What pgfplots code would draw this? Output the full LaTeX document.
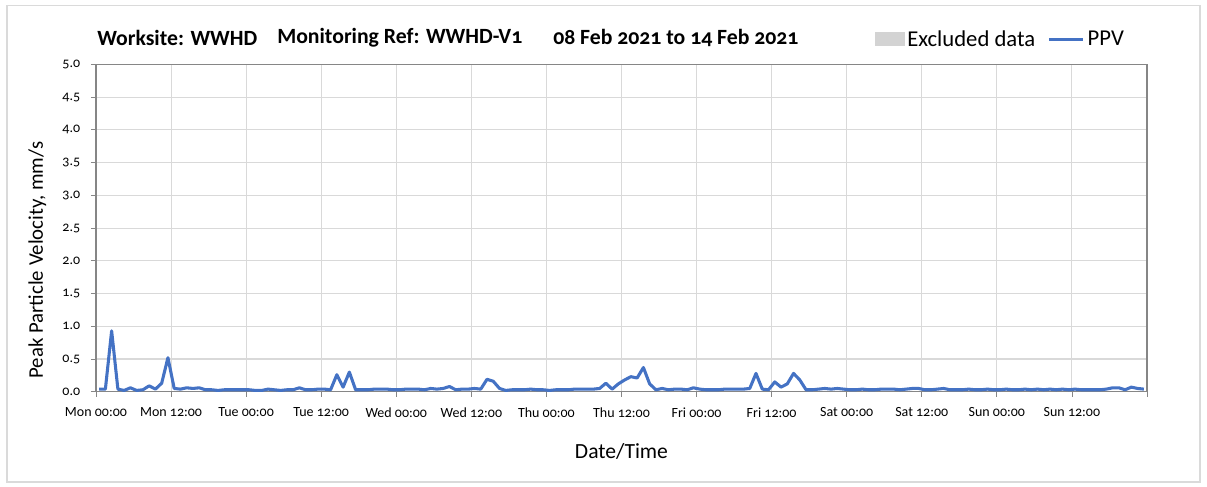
\documentclass[border=0pt]{standalone}
\usepackage{fontspec}
\setmainfont{Carlito}[Numbers=OldStyle]
\usepackage{pgfplots}
\usepackage{pgfplotstable}
\pgfplotsset{compat=1.18}

\definecolor{ppvblue}{HTML}{4472C4}
\definecolor{gridgray}{HTML}{D9D9D9}
\definecolor{axisgray}{HTML}{868686}
\definecolor{exclgray}{HTML}{D3D3D3}
\definecolor{framegray}{HTML}{DADADA}

% hourly PPV readings, time in hours from Mon 00:00
\pgfplotstableread{
t     ppv
0.5   0.04
1.5   0.04
2.5   0.93
3.5   0.04
4.5   0.02
5.5   0.06
6.5   0.02
7.5   0.03
8.5   0.09
9.5   0.04
10.5  0.13
11.5  0.52
12.5  0.05
13.5  0.04
14.5  0.06
15.5  0.05
16.5  0.06
17.5  0.03
18.5  0.03
19.5  0.02
20.5  0.03
21.5  0.03
22.5  0.03
23.5  0.03
24.5  0.03
25.5  0.02
26.5  0.02
27.5  0.04
28.5  0.03
29.5  0.02
30.5  0.03
31.5  0.03
32.5  0.06
33.5  0.03
34.5  0.03
35.5  0.04
36.5  0.04
37.5  0.03
38.5  0.26
39.5  0.07
40.5  0.30
41.5  0.03
42.5  0.03
43.5  0.03
44.5  0.04
45.5  0.04
46.5  0.04
47.5  0.03
48.5  0.03
49.5  0.04
50.5  0.04
51.5  0.04
52.5  0.03
53.5  0.05
54.5  0.04
55.5  0.05
56.5  0.08
57.5  0.03
58.5  0.04
59.5  0.04
60.5  0.05
61.5  0.04
62.5  0.19
63.5  0.16
64.5  0.05
65.5  0.02
66.5  0.03
67.5  0.03
68.5  0.03
69.5  0.04
70.5  0.03
71.5  0.03
72.5  0.02
73.5  0.03
74.5  0.03
75.5  0.03
76.5  0.04
77.5  0.04
78.5  0.04
79.5  0.04
80.5  0.05
81.5  0.13
82.5  0.04
83.5  0.12
84.5  0.18
85.5  0.23
86.5  0.21
87.5  0.37
88.5  0.12
89.5  0.03
90.5  0.05
91.5  0.03
92.5  0.04
93.5  0.04
94.5  0.03
95.5  0.06
96.5  0.04
97.5  0.03
98.5  0.03
99.5  0.03
100.5 0.04
101.5 0.04
102.5 0.04
103.5 0.04
104.5 0.05
105.5 0.28
106.5 0.04
107.5 0.03
108.5 0.15
109.5 0.07
110.5 0.12
111.5 0.28
112.5 0.18
113.5 0.03
114.5 0.03
115.5 0.04
116.5 0.05
117.5 0.04
118.5 0.05
119.5 0.04
120.5 0.03
121.5 0.03
122.5 0.04
123.5 0.03
124.5 0.03
125.5 0.04
126.5 0.04
127.5 0.04
128.5 0.03
129.5 0.04
130.5 0.05
131.5 0.05
132.5 0.03
133.5 0.03
134.5 0.04
135.5 0.05
136.5 0.03
137.5 0.03
138.5 0.03
139.5 0.04
140.5 0.03
141.5 0.03
142.5 0.04
143.5 0.03
144.5 0.03
145.5 0.04
146.5 0.03
147.5 0.03
148.5 0.04
149.5 0.03
150.5 0.04
151.5 0.03
152.5 0.04
153.5 0.03
154.5 0.04
155.5 0.03
156.5 0.04
157.5 0.03
158.5 0.03
159.5 0.03
160.5 0.03
161.5 0.04
162.5 0.06
163.5 0.06
164.5 0.03
165.5 0.07
166.5 0.05
167.5 0.04
}\ppvdata

\begin{document}
\begin{tikzpicture}
\begin{axis}[
  at={(0,0)}, anchor=south west,
  scale only axis,
  width=788.25pt, height=245.5pt,
  xmin=0, xmax=168, ymin=0, ymax=5,
  xtick={0,12,...,168},
  xticklabels={Mon 00:00,Mon 12:00,Tue 00:00,Tue 12:00,Wed 00:00,Wed 12:00,Thu 00:00,Thu 12:00,Fri 00:00,Fri 12:00,Sat 00:00,Sat 12:00,Sun 00:00,Sun 12:00,},
  ytick={0,0.5,...,5},
  yticklabels={0.0,0.5,1.0,1.5,2.0,2.5,3.0,3.5,4.0,4.5,5.0},
  xtick pos=bottom, ytick pos=left,
  tick align=outside,
  major tick length=3.8pt,
  tick style={axisgray, line width=0.6pt},
  grid=major,
  grid style={gridgray, line width=0.8pt},
  axis line style={axisgray, line width=0.8pt},
  ticklabel style={font=\fontsize{10.5pt}{12pt}\selectfont, text=black},
  xticklabel style={yshift=-4.5pt},
  yticklabel style={xshift=-4.5pt},
  xlabel={Date/Time},
  ylabel={Peak Particle Velocity, mm/s},
  xlabel style={font=\fontsize{16.2pt}{19pt}\selectfont,
    at={(axis description cs:0.5,0)}, anchor=center, yshift=-45pt},
  ylabel style={font=\fontsize{15.6pt}{18pt}\selectfont,
    at={(axis description cs:0,0.402)}, anchor=center, yshift=44pt},
  legend columns=2,
  legend style={draw=none, fill=none, at={(0.741,1.077)}, anchor=west,
    font=\fontsize{17pt}{20pt}\selectfont,
    /tikz/every even column/.append style={column sep=7pt},
    inner sep=0pt},
]
\addlegendimage{legend image code/.code={\fill[exclgray] (0pt,-4.9pt) rectangle (21.75pt,4.9pt);}}
\addlegendentry{Excluded data}
\addplot[ppvblue, line width=2.3pt, line join=round,
  legend image code/.code={\draw[ppvblue, line width=2.3pt] (0pt,0pt) -- (26pt,0pt);}]
  table[x=t, y=ppv] {\ppvdata};
\addlegendentry{PPV}
\end{axis}
% chart heading
\begin{scope}[every node/.style={font=\bfseries\fontsize{16.3pt}{19pt}\selectfont, anchor=west, inner sep=0pt}]
\node at (0.75pt,265.3pt) {Worksite: WWHD};
\node at (135.75pt,265.3pt) {Monitoring Ref: WWHD-V1};
\node at (342.75pt,265.3pt) {08 Feb 2021 to 14 Feb 2021};
\end{scope}
% outer chart frame
\draw[framegray, line width=0.8pt] (-66.75pt,-67.7pt) rectangle (828pt,290pt);
\pgfresetboundingbox
\path[use as bounding box] (-72pt,-70.7pt) rectangle (833.25pt,293.8pt);
\end{tikzpicture}
\end{document}
